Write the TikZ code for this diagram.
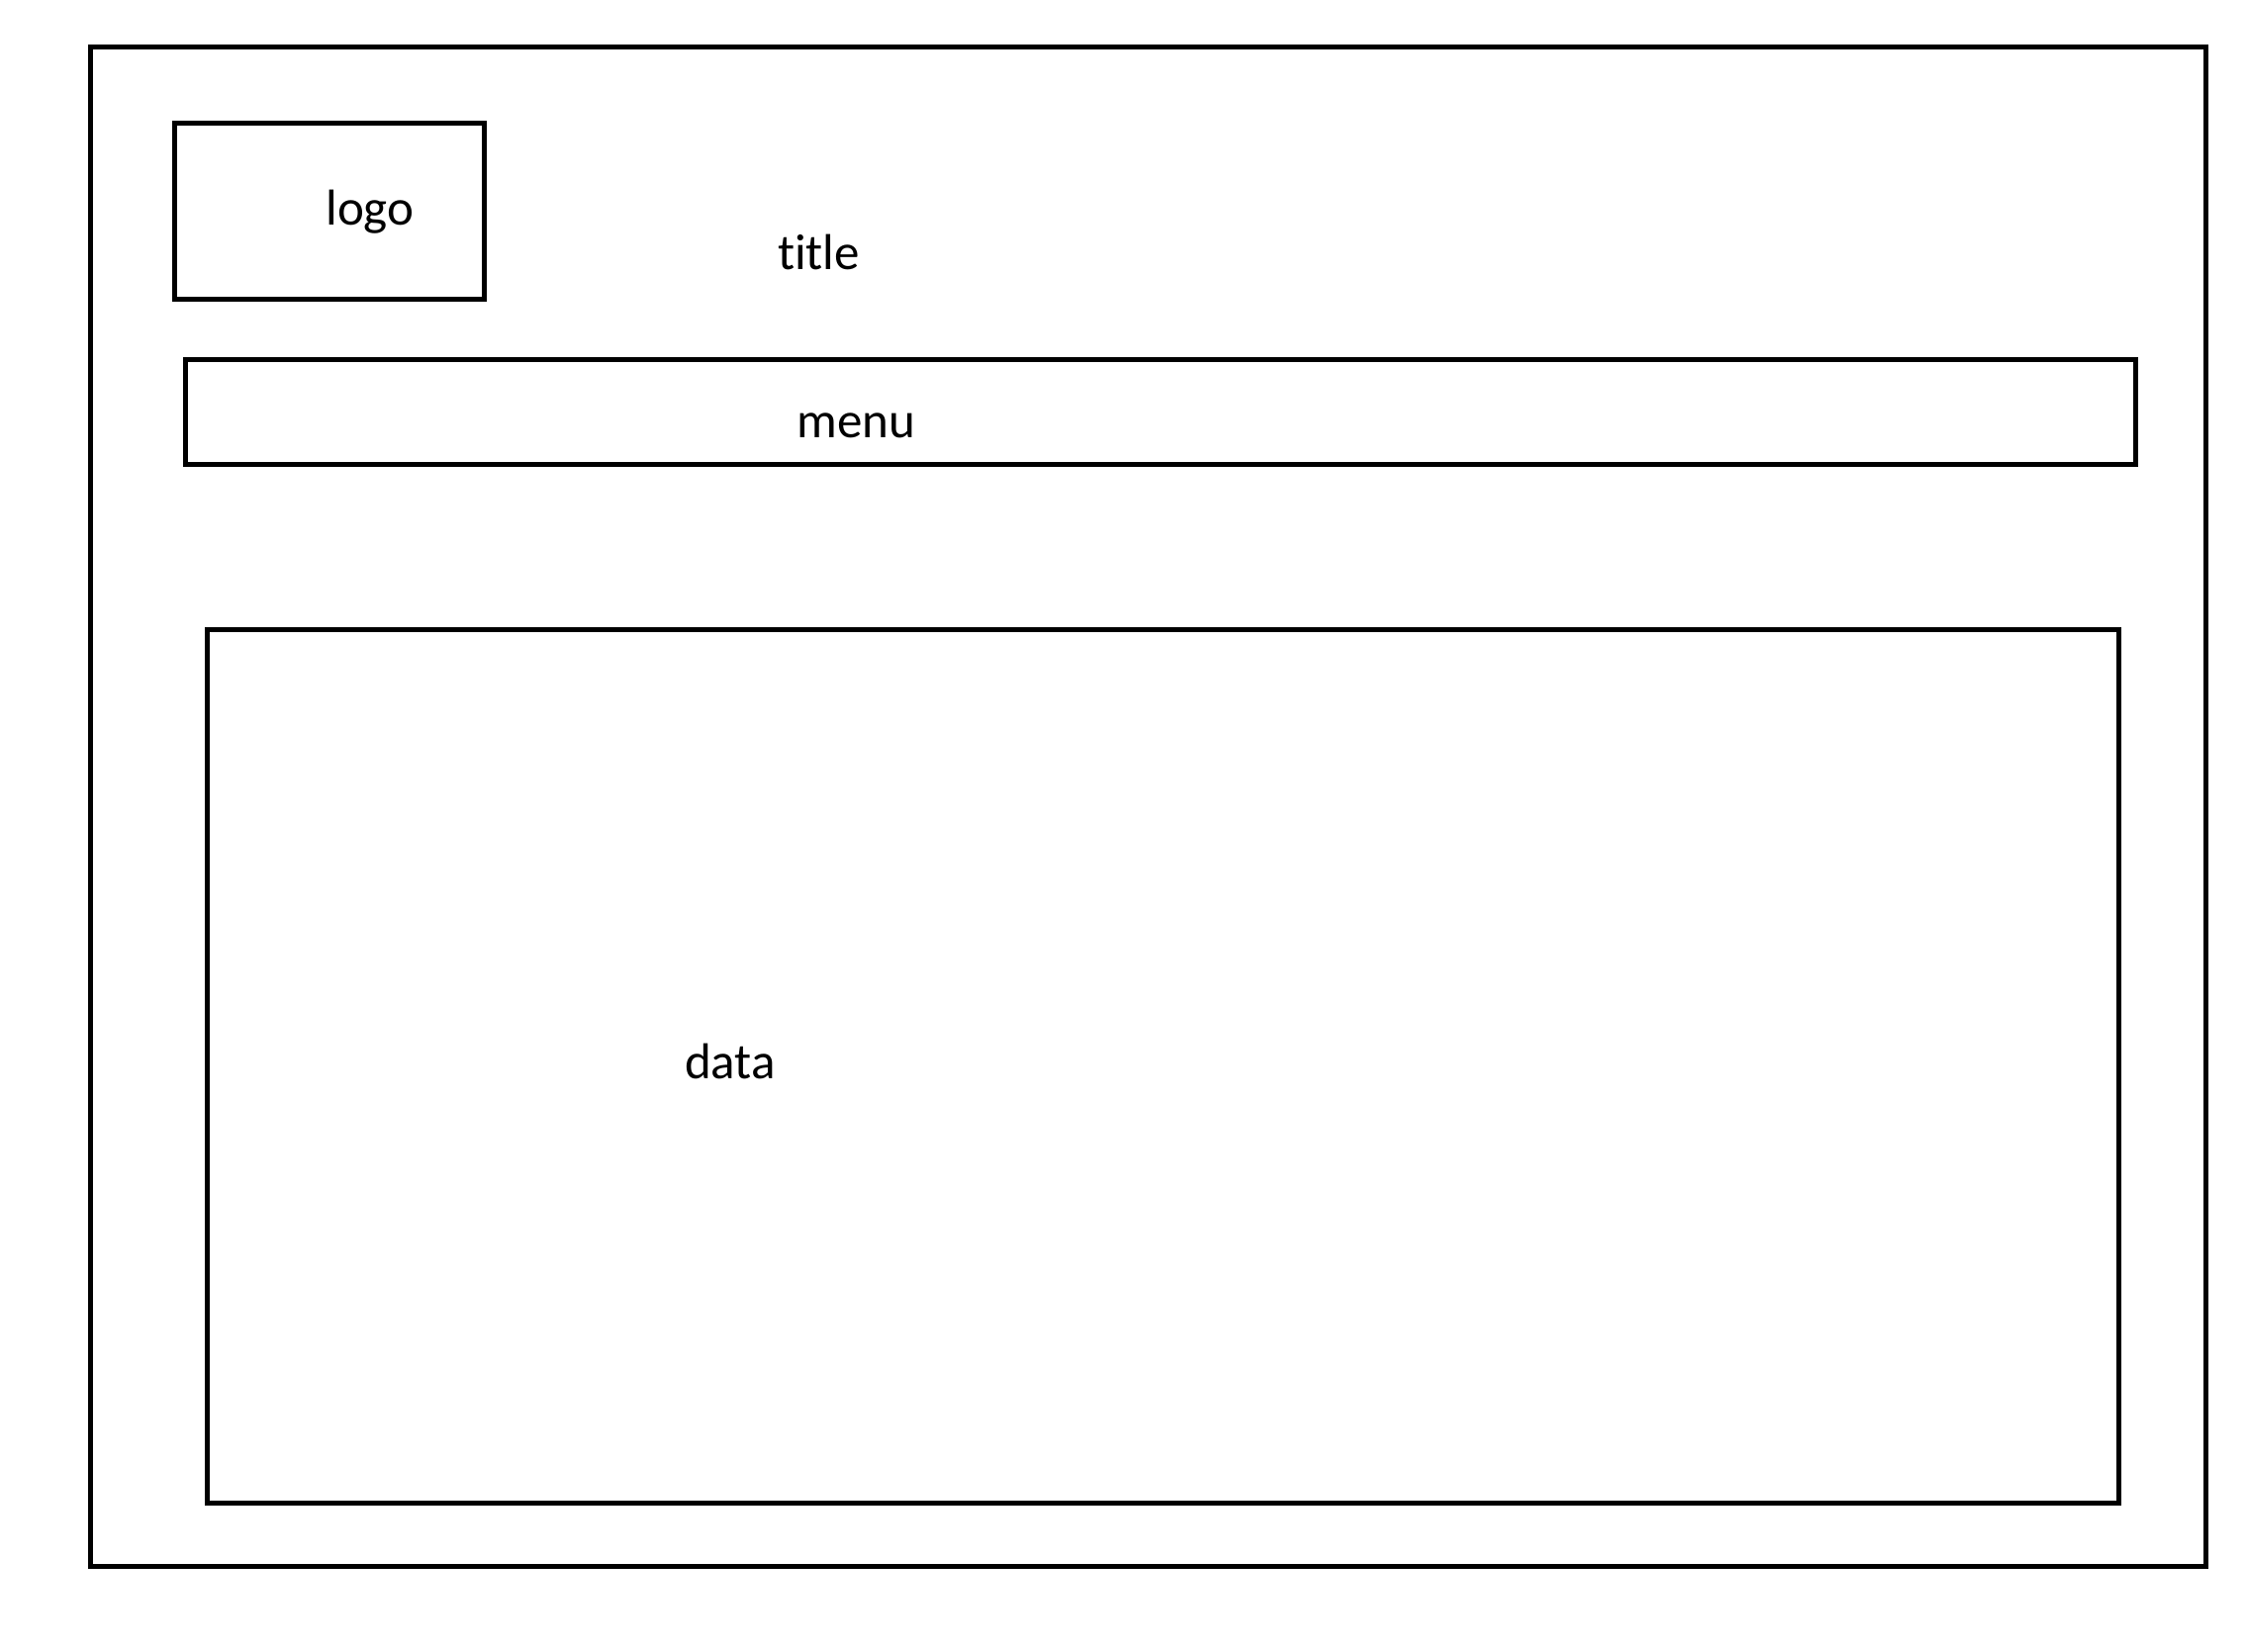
\documentclass[tikz,border=0pt]{standalone}
\usepackage{fontspec}
\setmainfont{Carlito}[Ligatures=NoCommon]
\begin{document}
\begin{tikzpicture}[x=1pt,y=-1pt,
  frame/.style={draw=black,line width=5pt,inner sep=0pt,outer sep=0pt,anchor=north west},
  lbl/.style={anchor=base,inner sep=0pt,font=\fontsize{51}{60}\selectfont}]
\useasboundingbox (0,0) rectangle (2271,1670);
\node[frame,minimum width=2138pt,minimum height=1535pt] (page) at (91,48) {};
\node[frame,minimum width=313pt,minimum height=177.5pt] (logobox) at (176.5,124.5) {};
\node[frame,minimum width=1971pt,minimum height=105.5pt] (menubox) at (187,363.5) {};
\node[frame,minimum width=1932pt,minimum height=883.5pt] (databox) at (209,636) {};
\node[lbl] (logo) at (374,227) {logo};
\node[lbl] (title) at (827.5,272) {title};
\node[lbl] (menu) at (865.5,442) {menu};
\node[lbl] (data) at (738,1090) {data};
\end{tikzpicture}
\end{document}
